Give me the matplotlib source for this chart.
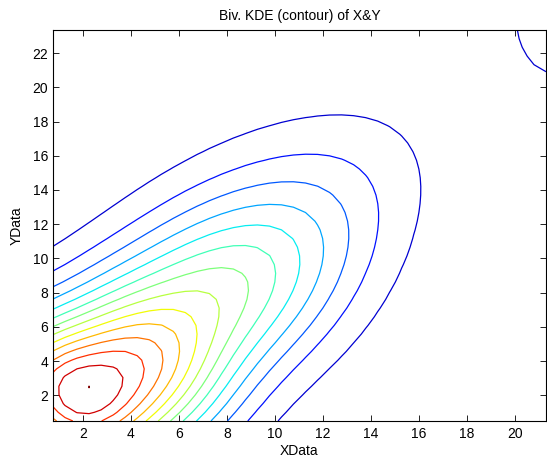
"""
Bivariate KDE contour of XData vs YData, drawn the way the old MATLAB figure looked.
"""

import numpy as np
import matplotlib
matplotlib.use('Agg')
import matplotlib.pyplot as plt

# Density surface, described by the kernel bumps
comp_x = [1.119, 4.169, 6.282, 8.575, 11.890, 21.289]
comp_y = [1.504, 3.182, 6.563, 10.029, 12.517, 23.381]
comp_sx = [2.313, 2.536, 3.939, 3.984, 3.650, 1.134]
comp_sy = [3.126, 3.140, 4.105, 5.040, 4.780, 2.375]
comp_rho = [-0.357, -0.197, 0.376, 0.410, 0.545, -0.215]
comp_amp = [9.0121, 5.9250, 5.2852, 2.3777, 0.9285, 1.6979]

# Grid range = data range
x_range = [0.75, 21.3]
y_range = [0.5, 23.35]
n_levels = 14

x_ticks = [2, 4, 6, 8, 10, 12, 14, 16, 18, 20]
y_ticks = [2, 4, 6, 8, 10, 12, 14, 16, 18, 20, 22]


def density(x, y):
    """Sum of the correlated gaussian bumps on the grid."""
    z = np.zeros_like(x)
    for mx, my, sx, sy, r, a in zip(comp_x, comp_y, comp_sx, comp_sy, comp_rho, comp_amp):
        dx = (x - mx) / sx
        dy = (y - my) / sy
        q = (dx * dx - 2 * r * dx * dy + dy * dy) / (1 - r * r)
        z += a * np.exp(-0.5 * q)
    return z


plt.rcParams['font.family'] = ['Liberation Sans', 'DejaVu Sans']

X, Y = np.meshgrid(np.linspace(*x_range, 42), np.linspace(*y_range, 46))
Z = density(X, Y)
zmax = Z.max()
step = zmax / n_levels
# top level sits right under the max so it shows as a dot
levels = list(step * np.arange(1, n_levels)) + [zmax * 0.9999]

fig = plt.figure(figsize=(5.47, 4.65), dpi=100)
ax = fig.add_axes([53 / 547, 44 / 465, 493 / 547, 391 / 465])

ax.contour(X, Y, Z, levels=levels, cmap='jet', vmin=0, vmax=zmax, linewidths=0.9)

ax.set_xlim(*x_range)
ax.set_ylim(*y_range)
ax.set_xticks(x_ticks)
ax.set_yticks(y_ticks)
ax.tick_params(direction='in', top=True, right=True, length=4, width=0.6,
               labelsize=10, colors='black')
ax.tick_params(axis='x', pad=4.5)
ax.tick_params(axis='y', pad=3.5)
for s in ax.spines.values():
    s.set_linewidth(0.8)

ax.set_title('Biv. KDE (contour) of X&Y', fontsize=10, pad=7)
ax.set_xlabel('XData', fontsize=10, labelpad=2)
ax.set_ylabel('YData', fontsize=10, labelpad=6)

fig.savefig('out.png', dpi=100)
